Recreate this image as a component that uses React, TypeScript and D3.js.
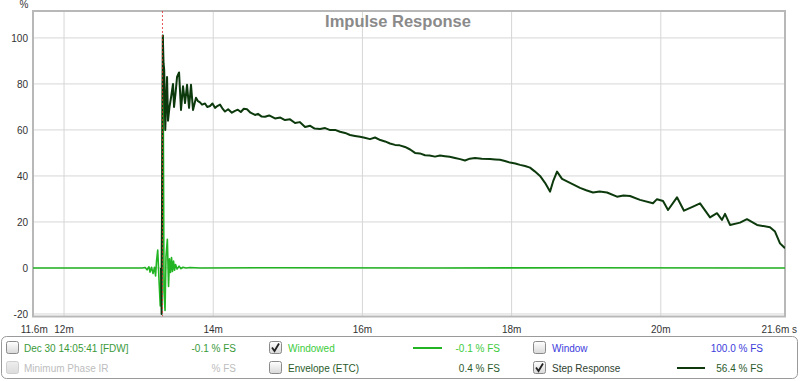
import React from "react";
import * as d3 from "d3";

// ---- Data ----
const xTicks = [12, 14, 16, 18, 20];
const xTickLabels = ["12m", "14m", "16m", "18m", "20m"];
const yTicks = [-20, 0, 20, 40, 60, 80, 100];
const xDomain = [11.584, 21.665];
const yDomain = [-21.1, 111.7];
const markerTime = 13.32;

// Windowed impulse response: [time ms, % FS]
const impulseT = [11.584, 13.05, 13.086, 13.113, 13.139, 13.153, 13.173, 13.193, 13.213, 13.227, 13.24, 13.256, 13.273, 13.29, 13.306, 13.316, 13.327, 13.334, 13.34, 13.354, 13.367, 13.385, 13.401, 13.414, 13.428, 13.441, 13.454, 13.468, 13.481, 13.495, 13.515, 13.542, 13.568, 13.595, 13.635, 13.689, 13.823, 15.0, 17.0, 19.0, 21.665];
const impulseV = [0, 0, 0.2, -0.8, 0.5, -1.8, 0.3, -2.4, 0.3, -3.5, 3, 7.8, -5, -16.5, -2, 60, 101, 40, -10, -18.5, 5, 12.5, -8, 4, -2, 4.5, -1.5, 3, -1, 1.5, -0.5, 0.8, -0.3, 0.3, 0, 0.2, 0, 0.1, 0, 0.1, 0];

// Step response: [time ms, % FS]
const stepT = [13.3, 13.308, 13.324, 13.334, 13.343, 13.357, 13.381, 13.394, 13.414, 13.434, 13.461, 13.475, 13.495, 13.515, 13.542, 13.568, 13.595, 13.622, 13.649, 13.676, 13.702, 13.729, 13.769, 13.796, 13.823, 13.85, 13.89, 13.92, 13.957, 13.99, 14.024, 14.06, 14.091, 14.12, 14.158, 14.2, 14.25, 14.292, 14.33, 14.37, 14.41, 14.453, 14.5, 14.56, 14.6, 14.65, 14.694, 14.75, 14.828, 14.9, 14.962, 15.03, 15.097, 15.16, 15.231, 15.3, 15.36, 15.432, 15.5, 15.56, 15.633, 15.7, 15.767, 15.834, 15.9, 15.968, 16.03, 16.102, 16.169, 16.24, 16.303, 16.37, 16.437, 16.5, 16.571, 16.64, 16.705, 16.77, 16.839, 16.9, 16.973, 17.04, 17.107, 17.17, 17.241, 17.31, 17.375, 17.44, 17.509, 17.6, 17.71, 17.78, 17.845, 17.91, 17.979, 18.05, 18.113, 18.18, 18.247, 18.31, 18.381, 18.448, 18.515, 18.56, 18.609, 18.676, 18.783, 18.917, 19.0, 19.091, 19.18, 19.279, 19.413, 19.5, 19.587, 19.721, 19.895, 19.949, 20.03, 20.097, 20.217, 20.311, 20.432, 20.526, 20.66, 20.753, 20.82, 20.861, 20.928, 21.062, 21.155, 21.29, 21.464, 21.531, 21.598, 21.665];
const stepV = [0, -20, 101, 89, 86, 60, 83, 64, 70, 74, 80, 70, 76, 83, 85, 68.7, 79, 71.7, 79.6, 69.6, 79.6, 68.7, 74, 72.5, 72, 71, 71.5, 70, 70.4, 71.5, 69.6, 70.5, 71, 69.5, 68, 69, 67.5, 68.3, 68.8, 67.8, 69.2, 69, 67.5, 66.5, 67, 65.8, 65.7, 66.3, 65, 65.4, 64.3, 64.6, 63, 63.4, 61.3, 61.8, 60.6, 60.4, 60.8, 60, 60, 59.2, 58.7, 57.8, 57.4, 57, 56.6, 56, 56.7, 55.6, 55, 54.1, 53.5, 53.3, 52.6, 51.5, 50, 49.8, 49, 48.9, 48.4, 48.9, 48.6, 48.3, 47.8, 47.3, 46.7, 47.5, 47.8, 47.5, 47.4, 47.2, 47, 46.5, 45.8, 45.4, 44.8, 44.3, 43.6, 42, 40, 37, 33.2, 38, 41.9, 38.7, 37, 34.8, 33.8, 32.8, 33.2, 32.8, 31, 31.5, 31.3, 29.6, 28.1, 29.9, 29.1, 25.2, 30.7, 24.9, 26.7, 28.1, 22, 23.8, 20.9, 23.5, 18.7, 19.7, 21.2, 18.7, 17.7, 15.8, 10.7, 8.6];

const W = 800;
const H = 381;
const plot = { left: 33, right: 785, top: 11, bottom: 316.5 };

function Checkbox({ x, y, checked, disabled }: { x: number; y: number; checked?: boolean; disabled?: boolean }) {
  const id = disabled ? "cbgD" : "cbg";
  return (
    <g>
      <rect x={x + 0.5} y={y + 0.5} width={12} height={12} rx={2} fill={`url(#${id})`} stroke={disabled ? "#cfcfcf" : "#8a8a8a"} />
      {checked && (
        <path d={`M${x + 3},${y + 6.5} L${x + 5.5},${y + 10} L${x + 10},${y + 2.5}`} fill="none" stroke="#222" strokeWidth={1.8} />
      )}
    </g>
  );
}

export default function App() {
  const x = d3.scaleLinear().domain(xDomain).range([plot.left, plot.right]);
  const y = d3.scaleLinear().domain(yDomain).range([plot.bottom, plot.top]);
  const line = d3
    .line<[number, number]>()
    .x((d) => x(d[0]))
    .y((d) => y(d[1]));
  const impulse = impulseT.map((t, i) => [t, impulseV[i]] as [number, number]);
  const step = stepT.map((t, i) => [t, stepV[i]] as [number, number]);
  const font = "Arial, 'Liberation Sans', sans-serif";

  return (
    <svg width={W} height={H} style={{ position: "absolute", left: 0, top: 0, fontFamily: font }}>
      <defs>
        <linearGradient id="cbg" x1="0" y1="0" x2="0" y2="1">
          <stop offset="0" stopColor="#ffffff" />
          <stop offset="1" stopColor="#d8d8d8" />
        </linearGradient>
        <linearGradient id="cbgD" x1="0" y1="0" x2="0" y2="1">
          <stop offset="0" stopColor="#eeeeee" />
          <stop offset="1" stopColor="#dcdcdc" />
        </linearGradient>
        <clipPath id="plotClip">
          <rect x={plot.left} y={plot.top} width={plot.right - plot.left} height={plot.bottom - plot.top} />
        </clipPath>
      </defs>
      <rect x={0} y={0} width={W} height={H} fill="#ffffff" />

      {/* grid */}
      {xTicks.map((t) => (
        <line key={"gx" + t} x1={x(t)} x2={x(t)} y1={plot.top} y2={plot.bottom} stroke="#d6d6d6" strokeWidth={1} />
      ))}
      {yTicks.map((t) => (
        <line key={"gy" + t} x1={plot.left} x2={plot.right} y1={y(t)} y2={y(t)} stroke="#d6d6d6" strokeWidth={1} />
      ))}

      {/* title */}
      <text x={398} y={27} textAnchor="middle" fontSize={16.5} fontWeight="bold" fill="#8a8a8a">
        Impulse Response
      </text>

      {/* frame */}
      <rect x={plot.left} y={plot.top} width={plot.right - plot.left} height={plot.bottom - plot.top} fill="none" stroke="#b8b8b8" strokeWidth={2} />

      <g clipPath="url(#plotClip)">
        <path d={line(impulse) || ""} fill="none" stroke="#22b422" strokeWidth={1.6} strokeLinejoin="round" />
        <path d={line(step) || ""} fill="none" stroke="#0d3a0d" strokeWidth={2} strokeLinejoin="round" />
        <line x1={x(markerTime)} x2={x(markerTime)} y1={plot.top} y2={plot.bottom} stroke="#e03030" strokeWidth={1} strokeDasharray="2,2" opacity={0.8} />
      </g>

      {/* y axis labels */}
      <text x={24} y={8} fontSize={10} fill="#333" textAnchor="middle">%</text>
      {yTicks.map((t) => (
        <text key={"ty" + t} x={28} y={y(t) + 4} fontSize={10} fill="#333" textAnchor="end">
          {t}
        </text>
      ))}

      {/* x axis labels */}
      <text x={x(11.6)} y={333} fontSize={10} fill="#333" textAnchor="middle">11.6m</text>
      {xTicks.map((t, i) => (
        <text key={"tx" + t} x={x(t)} y={333} fontSize={10} fill="#333" textAnchor="middle">
          {xTickLabels[i]}
        </text>
      ))}
      <text x={797} y={333} fontSize={10} fill="#333" textAnchor="end">21.6m s</text>

      {/* legend */}
      <rect x={1.5} y={336.5} width={796} height={42} rx={5} fill="#fff" stroke="#9a9a9a" />
      <g fontSize={10}>
        <Checkbox x={6} y={341} />
        <text x={24} y={352} fill="#3a9a3a">Dec 30 14:05:41 [FDW]</text>
        <text x={236} y={352} fill="#3a9a3a" textAnchor="end">-0.1 % FS</text>

        <Checkbox x={269} y={341} checked />
        <text x={288} y={352} fill="#3ccc3c">Windowed</text>
        <line x1={413} x2={442} y1={348} y2={348} stroke="#22b422" strokeWidth={2} />
        <text x={500} y={352} fill="#3ccc3c" textAnchor="end">-0.1 % FS</text>

        <Checkbox x={533} y={341} />
        <text x={552} y={352} fill="#3c3cdc">Window</text>
        <text x={763} y={352} fill="#3c3cdc" textAnchor="end">100.0 % FS</text>

        <Checkbox x={6} y={361} disabled />
        <text x={24} y={372} fill="#bdbdbd">Minimum Phase IR</text>
        <text x={236} y={372} fill="#bdbdbd" textAnchor="end">% FS</text>

        <Checkbox x={269} y={361} />
        <text x={288} y={372} fill="#2a5a2a">Envelope (ETC)</text>
        <text x={500} y={372} fill="#2a5a2a" textAnchor="end">0.4 % FS</text>

        <Checkbox x={533} y={361} checked />
        <text x={552} y={372} fill="#2f3f2f">Step Response</text>
        <line x1={677} x2={705} y1={368} y2={368} stroke="#0d3a0d" strokeWidth={2} />
        <text x={763} y={372} fill="#2a5a2a" textAnchor="end">56.4 % FS</text>
      </g>
    </svg>
  );
}
